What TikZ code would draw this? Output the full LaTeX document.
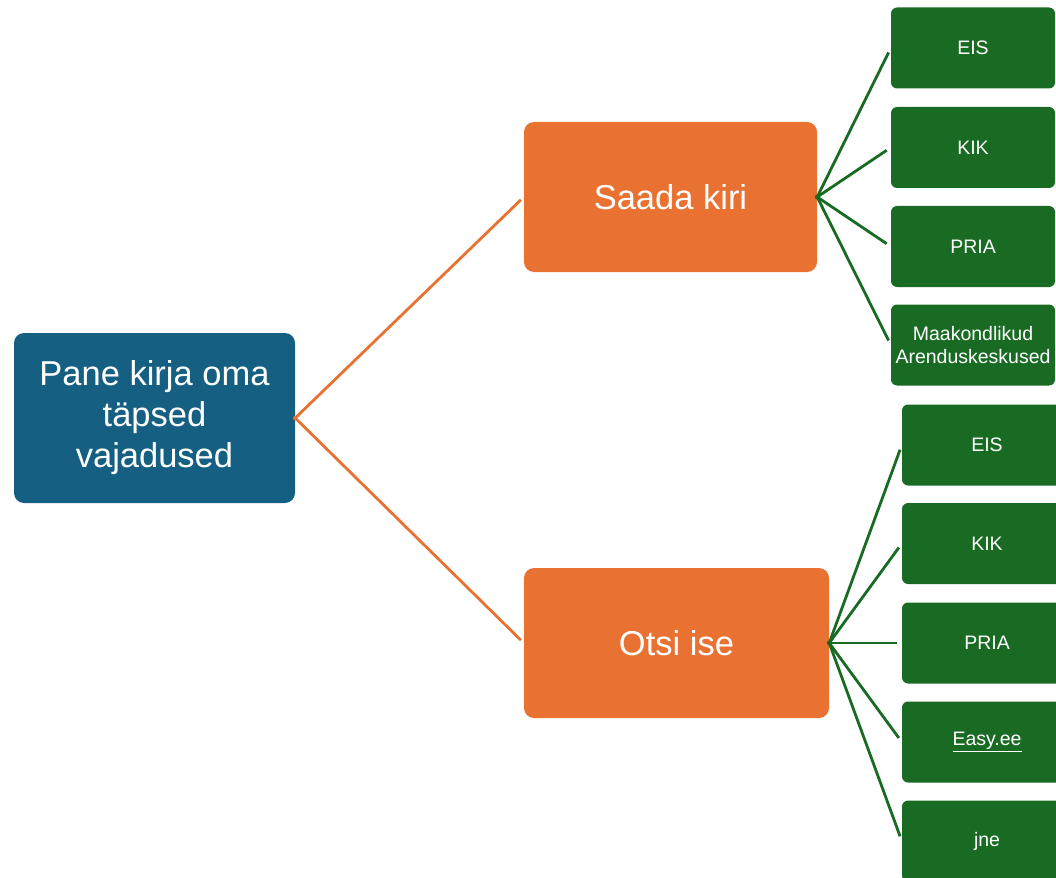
\documentclass[tikz,border=0pt]{standalone}
\usepackage{fontspec}
\setmainfont{Liberation Sans}
\definecolor{goalblue}{HTML}{156082}
\definecolor{wayorange}{HTML}{E97132}
\definecolor{sourcegreen}{HTML}{196B24}
\begin{document}
\begin{tikzpicture}[x=1pt,y=-1pt]
        \tikzstyle{goal}=[rounded corners=10pt,fill=goalblue,text=white,align=center,minimum width=281pt,minimum height=170pt,inner sep=0pt,font=\fontsize{34.5}{41}\selectfont]
        \tikzstyle{way}=[rounded corners=10pt,fill=wayorange,text=white,align=center,minimum height=150pt,inner sep=0pt,font=\fontsize{34.5}{41}\selectfont]
        \tikzstyle{source}=[rounded corners=6pt,fill=sourcegreen,text=white,align=center,minimum height=81pt,inner sep=0pt,font=\fontsize{19.5}{23}\selectfont]
        \tikzstyle{trunk}=[draw=wayorange,line width=2.8pt,shorten <=-2pt,shorten >=4pt]
        \tikzstyle{twig}=[draw=sourcegreen,line width=2.8pt,shorten <=-2pt,shorten >=5pt]
       \useasboundingbox (0,0) rectangle (1056,877);
       \clip (0,0) rectangle (1056,877);
       \begin{scope}
         \node [goal] (goal) at (154.5,418) {Pane kirja oma\\täpsed\\vajadused};
         \node [way,minimum width=293pt] (letter) at (670.5,197) {Saada kiri};
         \node [way,minimum width=305pt] (search) at (676.5,643) {Otsi ise};
         % kirja saajad
         \node [source,minimum width=164pt] (l1) at (973,48) {EIS};
         \node [source,minimum width=164pt] (l2) at (973,147.5) {KIK};
         \node [source,minimum width=164pt] (l3) at (973,246.5) {PRIA};
         \node [source,minimum width=164pt] (l4) at (973,345) {Maakondlikud\\Arenduskeskused};
         % ise otsimiseks
         \node [source,minimum width=170pt] (s1) at (987,445) {EIS};
         \node [source,minimum width=170pt] (s2) at (987,543.5) {KIK};
         \node [source,minimum width=170pt] (s3) at (987,643) {PRIA};
         \node [source,minimum width=170pt] (s4) at (987,742) {\underline{Easy.ee}};
         \node [source,minimum width=170pt] (s5) at (987,841) {jne};
         \path[trunk] (goal.east) edge (letter.west);
         \path[trunk] (goal.east) edge (search.west);
         \foreach \i in {1,...,4}
           \path[twig] (letter.east) edge (l\i.west);
         \foreach \i in {1,...,5}
           \path[twig] (search.east) edge (s\i.west);
        \end{scope}
\end{tikzpicture}
\end{document}
